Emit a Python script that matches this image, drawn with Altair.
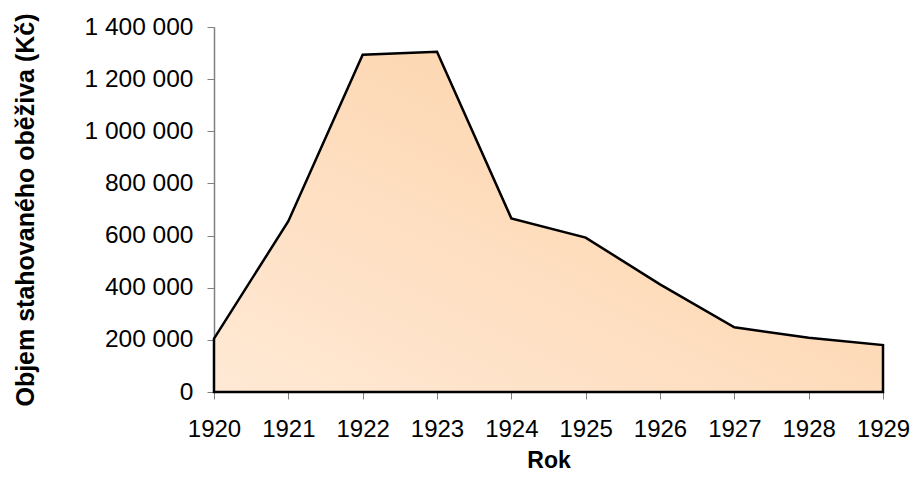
import altair as alt
import pandas as pd

years = [1920, 1921, 1922, 1923, 1924, 1925, 1926, 1927, 1928, 1929]
values = [205000, 655000, 1294000, 1305000, 666000, 592000, 413000, 248000, 208000, 180000]
y_ticks = [0, 200000, 400000, 600000, 800000, 1000000, 1200000, 1400000]

df = pd.DataFrame({"Rok": years, "Objem": values})

font = "Liberation Sans"

chart = alt.Chart(df).mark_area(
    stroke="black",
    strokeWidth=2.5,
    strokeJoin="miter",
    color=alt.Gradient(
        gradient="linear",
        x1=0, y1=1, x2=1, y2=0,
        stops=[
            alt.GradientStop(color="#FFE9D5", offset=0),
            alt.GradientStop(color="#FCCFA2", offset=1),
        ],
    ),
).encode(
    x=alt.X(
        "Rok:Q",
        scale=alt.Scale(domain=[1920, 1929], nice=False, zero=False),
        axis=alt.Axis(
            values=years,
            format="d",
            title="Rok",
            grid=False,
            domain=False,
            tickColor="#808080",
            tickSize=7,
            labelPadding=37,
            labelBaseline="alphabetic",
            labelOverlap=False,
            labelFlush=False,
            labelFontSize=24,
            labelColor="black",
            labelFont=font,
            titleFont=font,
            titleFontSize=23,
            titleFontWeight="bold",
            titleColor="black",
            titleBaseline="alphabetic",
            titleY=75,
        ),
    ),
    y=alt.Y(
        "Objem:Q",
        scale=alt.Scale(domain=[0, 1400000], nice=False),
        axis=alt.Axis(
            values=y_ticks,
            labelExpr="replace(format(datum.value, ',d'), /,/g, ' ')",
            title="Objem stahovaného oběživa (Kč)",
            grid=False,
            domainColor="#808080",
            domainWidth=1.5,
            tickColor="#808080",
            tickSize=7,
            labelPadding=14,
            labelFontSize=24.5,
            labelColor="black",
            labelFont=font,
            titleFont=font,
            titleFontSize=25,
            titleFontWeight="bold",
            titleColor="black",
            titleAngle=-90,
            titleBaseline="alphabetic",
            titleX=-181,
        ),
    ),
).properties(
    width=669,
    height=365,
    padding={"left": 206, "top": 19, "right": 27, "bottom": 82},
    autosize=alt.AutoSizeParams(type="none"),
).configure_view(stroke=None)

chart.save("out.html", embed_options={"renderer": "svg", "actions": False})
